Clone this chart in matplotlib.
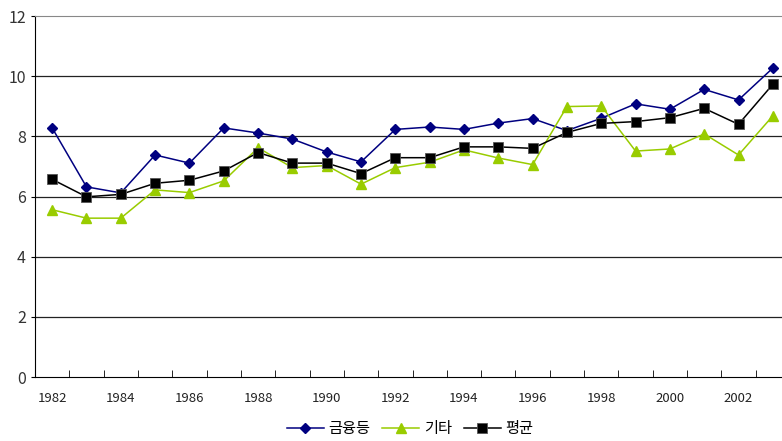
import matplotlib.pyplot as plt
import numpy as np

plt.rcParams['font.family'] = ['Noto Sans CJK KR', 'DejaVu Sans']

years = list(range(1982, 2004))
finance = [8.28, 6.32, 6.12, 7.38, 7.11, 8.28, 8.11, 7.91, 7.48, 7.15, 8.23,
           8.31, 8.23, 8.44, 8.59, 8.19, 8.60, 9.08, 8.90, 9.56, 9.21, 10.27]
other = [5.56, 5.28, 5.28, 6.22, 6.13, 6.52, 7.62, 6.96, 7.03, 6.41, 6.96,
         7.14, 7.55, 7.28, 7.06, 8.99, 9.01, 7.51, 7.58, 8.08, 7.38, 8.68]
average = [6.57, 5.99, 6.07, 6.44, 6.54, 6.85, 7.46, 7.11, 7.11, 6.76, 7.29,
           7.29, 7.65, 7.65, 7.60, 8.13, 8.43, 8.49, 8.62, 8.93, 8.40, 9.73]
labels = ['금융등', '기타', '평균']

fig = plt.figure(figsize=(7.82, 4.41), dpi=100)
ax = fig.add_axes([35/782, 1-377/441, 755/782, (377-16)/441])

x = np.arange(len(years))
ax.plot(x, finance, color='#000080', marker='D', markersize=5, lw=1.1, label=labels[0])
ax.plot(x, other, color='#99cc00', marker='^', markersize=6.5, lw=1.1, label=labels[1])
ax.plot(x, average, color='black', marker='s', markersize=7, lw=1.1,
        markeredgecolor='#555555', markeredgewidth=0.6, label=labels[2])

ax.set_xlim(-0.5, len(years) - 0.5)
ax.set_ylim(0, 12)
ax.set_yticks(range(0, 13, 2))
for yv in range(2, 12, 2):
    ax.axhline(yv, color='#222222', lw=0.9, zorder=0)

ax.set_xticks(x[::2])
ax.set_xticklabels([str(y) for y in years[::2]], fontsize=9.5, color='#222222')
ax.set_xticks(np.arange(-0.5, len(years), 1), minor=True)
ax.tick_params(axis='x', which='major', length=0, pad=11)
ax.tick_params(axis='x', which='minor', direction='in', length=5, color='black')
ax.tick_params(axis='y', labelsize=11.5, labelcolor='#333333', length=3, direction='out')

ax.spines['top'].set_color('#888888')
ax.spines['right'].set_visible(False)
ax.spines['left'].set_color('black')
ax.spines['bottom'].set_color('black')

fig.legend(loc='center', bbox_to_anchor=(410/782, 1-429/441), ncol=3, frameon=False,
           fontsize=11, handlelength=2.4, handletextpad=0.3, columnspacing=0.8)

fig.savefig('out.png', dpi=100)
